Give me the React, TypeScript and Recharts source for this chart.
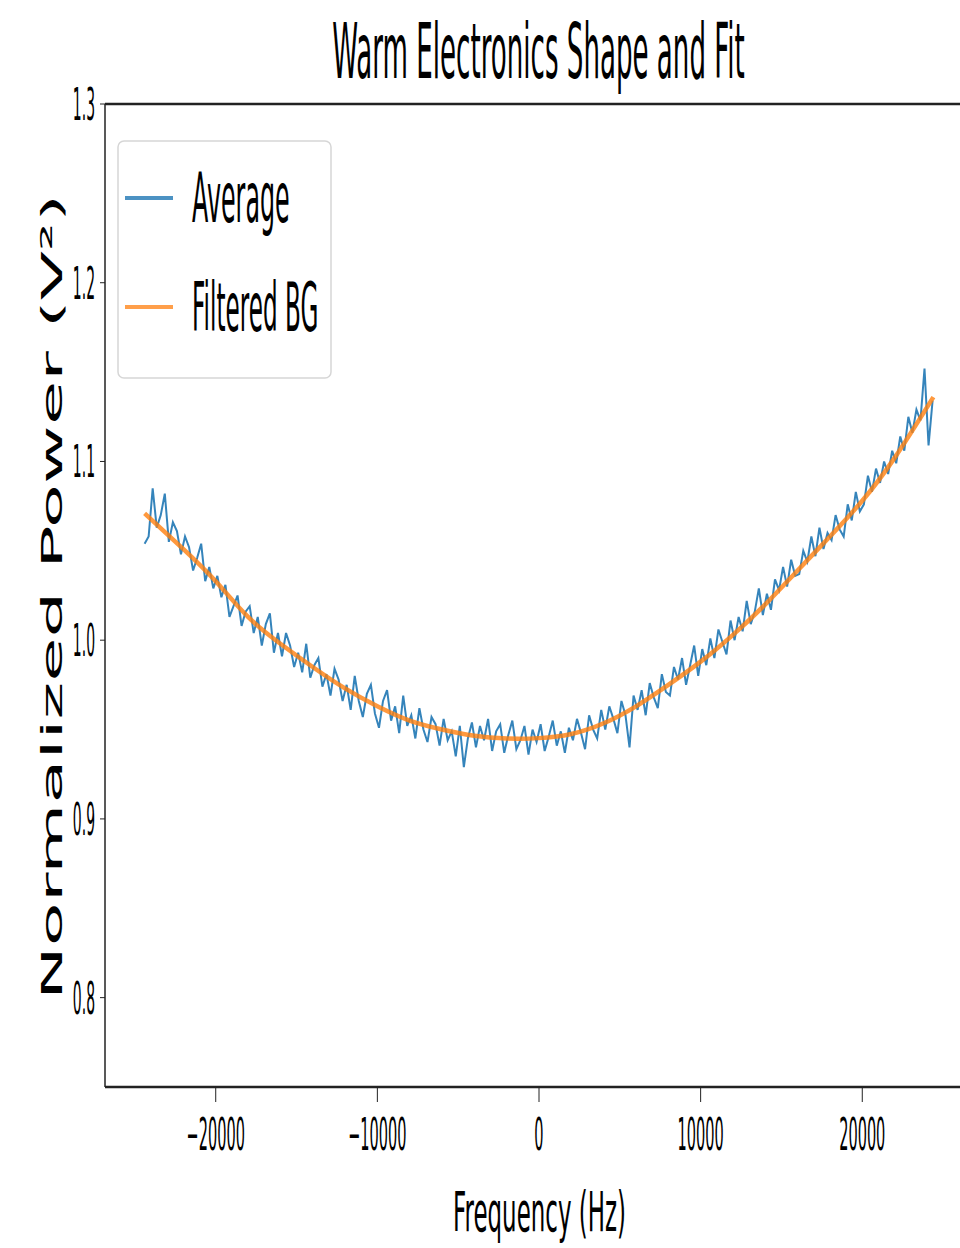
import { LineChart, Line, XAxis, YAxis, ReferenceLine } from 'recharts';

// raw spectrum sampled every 250 Hz starting at -24400 Hz
const freqStart = -24400;
const freqStep = 250;
const averageValues = [
  1.054, 1.058, 1.085, 1.063, 1.070, 1.082, 1.055, 1.066, 1.061, 1.048,
  1.058, 1.052, 1.039, 1.046, 1.054, 1.033, 1.041, 1.029,
  1.036, 1.024, 1.031, 1.013, 1.019, 1.025, 1.008, 1.016,
  1.019, 1.004, 1.013, 0.997, 1.009, 1.015, 0.993, 1.004,
  0.991, 1.004, 0.997, 0.985, 0.993, 0.982, 0.998, 0.979,
  0.986, 0.990, 0.974, 0.981, 0.969, 0.984, 0.978, 0.966,
  0.975, 0.961, 0.980, 0.966, 0.957, 0.970, 0.975, 0.959,
  0.951, 0.966, 0.972, 0.955, 0.963, 0.948, 0.969, 0.952,
  0.958, 0.945, 0.962, 0.950, 0.943, 0.957, 0.953, 0.941,
  0.956, 0.944, 0.949, 0.935, 0.952, 0.929, 0.945, 0.954,
  0.940, 0.952, 0.944, 0.956, 0.938, 0.949, 0.953, 0.937,
  0.947, 0.955, 0.939, 0.944, 0.952, 0.936, 0.950, 0.943,
  0.953, 0.938, 0.946, 0.955, 0.941, 0.949, 0.937, 0.951,
  0.944, 0.956, 0.948, 0.939, 0.958, 0.950, 0.945, 0.961,
  0.950, 0.963, 0.956, 0.948, 0.966, 0.958, 0.940, 0.969,
  0.961, 0.972, 0.958, 0.976, 0.968, 0.962, 0.981, 0.971,
  0.969, 0.985, 0.978, 0.990, 0.975, 0.986, 0.997, 0.980,
  0.995, 0.986, 1.001, 0.990, 1.006, 0.999, 0.992, 1.011,
  1.000, 1.013, 1.005, 1.022, 1.009, 1.016, 1.029, 1.014,
  1.026, 1.017, 1.034, 1.028, 1.041, 1.030, 1.045, 1.036,
  1.037, 1.050, 1.044, 1.058, 1.047, 1.063, 1.051, 1.060,
  1.056, 1.070, 1.062, 1.058, 1.076, 1.067, 1.083, 1.072,
  1.076, 1.092, 1.083, 1.096, 1.088, 1.100, 1.093, 1.106,
  1.099, 1.114, 1.106, 1.125, 1.116, 1.129, 1.123, 1.152, 1.109, 1.134,
];

const bgFreqs = [-24400, -22000, -20000, -18000, -16000, -14000, -12000, -10000, -8000, -6000, -4000, -2000, 0, 2000, 4000, 6000, 8000, 10000, 12000, 14000, 16000, 18000, 20000, 22000, 24400];
const bgValues = [1.071, 1.051, 1.033, 1.013, 0.998, 0.985, 0.973, 0.963, 0.955, 0.950, 0.9465, 0.945, 0.9452, 0.9475, 0.9535, 0.963, 0.975, 0.988, 1.003, 1.020, 1.039, 1.058, 1.078, 1.102, 1.136];

const xTicks = [-20000, -10000, 0, 10000, 20000];
const yTicks = [0.8, 0.9, 1.0, 1.1, 1.2, 1.3];

const avgData = averageValues.map((v, i) => ({ f: freqStart + i * freqStep, v }));
const bgData = bgFreqs.map((f, i) => ({ f, v: bgValues[i] }));

const font = 'DejaVu Sans';
const blue = '#1f77b4';
const orange = '#ff7f0e';

function XTick(props: any) {
  const { x, payload } = props;
  const k = 0.33;
  const label = payload.value < 0 ? '\u2212' + Math.abs(payload.value) : String(payload.value);
  return (
    <text x={x / k} y={1150} transform={`scale(${k},1)`} textAnchor="middle" fontSize={44} fontFamily={font} fill="#000">
      {label}
    </text>
  );
}

function YTick(props: any) {
  const { y, payload } = props;
  const k = 0.31;
  return (
    <text x={95 / k} y={y + 16} transform={`scale(${k},1)`} textAnchor="end" fontSize={45} fontFamily={font} fill="#000">
      {payload.value.toFixed(1)}
    </text>
  );
}

function Overlay() {
  const kt = 0.339;
  const kl = 0.34;
  const kx = 0.41;
  return (
    <svg width={960} height={1248} style={{ position: 'absolute', left: 0, top: 0, pointerEvents: 'none' }}>
      <text x={538.5 / kt} y={78} transform={`scale(${kt},1)`} textAnchor="middle" fontSize={77} fontFamily={font} fill="#000">
        Warm Electronics Shape and Fit
      </text>
      <text x={539.5 / kx} y={1231} transform={`scale(${kx},1)`} textAnchor="middle" fontSize={56} fontFamily={font} fill="#000">
        Frequency (Hz)
      </text>
      <text transform="translate(62,597) rotate(-90) scale(1,0.4)" textAnchor="middle" fontSize={72} fontFamily={font} fill="#000">
        Normalized Power (V²)
      </text>
      <rect x={118} y={141} width={213} height={237} rx={6} fill="#fff" fillOpacity={0.8} stroke="#d6d6d6" strokeWidth={1.5} />
      <line x1={125} x2={173} y1={198} y2={198} stroke={blue} strokeWidth={4} strokeOpacity={0.8} />
      <line x1={125} x2={173} y1={307} y2={307} stroke={orange} strokeWidth={4} strokeOpacity={0.75} />
      <text x={192 / kl} y={222} transform={`scale(${kl},1)`} fontSize={70} fontFamily={font} fill="#000">Average</text>
      <text x={192 / kl} y={331} transform={`scale(${kl},1)`} fontSize={68} fontFamily={font} fill="#000">Filtered BG</text>
    </svg>
  );
}

export default function App() {
  return (
    <div style={{ width: 960, height: 1248, overflow: 'hidden', position: 'relative', background: '#fff' }}>
      <style>{'html, body { margin: 0; padding: 0; overflow: hidden; }'}</style>
      <LineChart width={1000} height={1248} margin={{ top: 104, right: 27, left: 0, bottom: 101 }}>
        <XAxis
          type="number"
          dataKey="f"
          domain={[-26850, 26850]}
          ticks={xTicks}
          allowDataOverflow
          height={60}
          tickSize={15}
          axisLine={{ stroke: '#222', strokeWidth: 2.5 }}
          tickLine={{ stroke: '#222', strokeWidth: 1 }}
          tick={<XTick />}
        />
        <YAxis
          type="number"
          domain={[0.75, 1.3]}
          ticks={yTicks}
          allowDataOverflow
          width={105}
          tickSize={5}
          axisLine={{ stroke: '#222', strokeWidth: 1.5 }}
          tickLine={{ stroke: '#222', strokeWidth: 1 }}
          tick={<YTick />}
        />
        <ReferenceLine y={1.3} stroke="#222" strokeWidth={2.5} />
        <Line data={avgData} dataKey="v" type="linear" stroke={blue} strokeWidth={2} strokeOpacity={0.9} dot={false} isAnimationActive={false} />
        <Line data={bgData} dataKey="v" type="natural" stroke={orange} strokeWidth={4.5} strokeOpacity={0.8} dot={false} isAnimationActive={false} />
      </LineChart>
      <Overlay />
    </div>
  );
}
